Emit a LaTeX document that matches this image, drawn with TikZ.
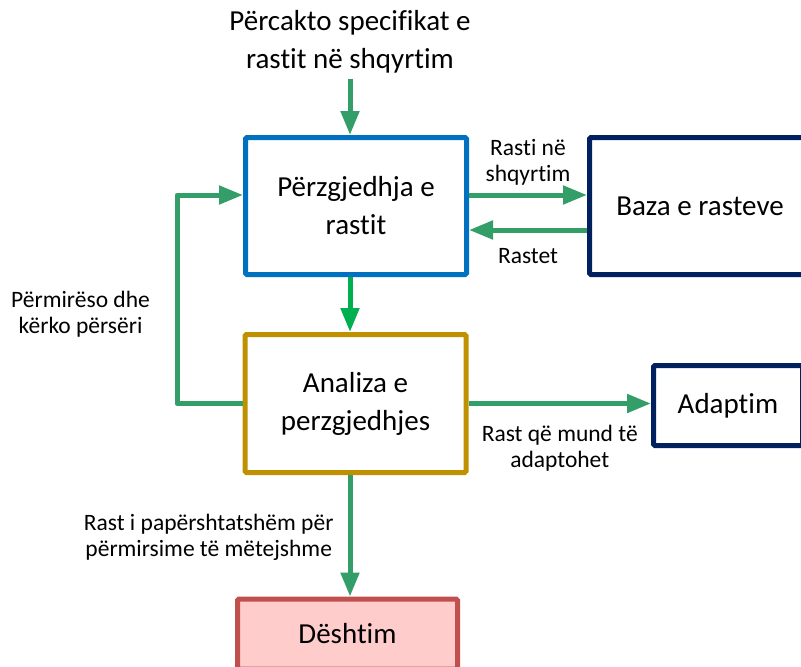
\documentclass[tikz,border=0pt]{standalone}
\usepackage{fontspec}
\setmainfont{Carlito}[Ligatures=NoCommon]
\usetikzlibrary{arrows.meta}
\definecolor{boxblue}{RGB}{0,112,192}
\definecolor{boxnavy}{RGB}{0,32,96}
\definecolor{boxgold}{RGB}{191,144,0}
\definecolor{failred}{RGB}{192,80,77}
\definecolor{failfill}{RGB}{255,204,204}
\definecolor{flowgreen}{RGB}{52,158,104}
\definecolor{brightgreen}{RGB}{0,176,80}
\begin{document}
\begin{tikzpicture}[x=1pt,y=-1pt,
    box/.style={draw,line width=5pt,rounded corners=1.5pt,fill=white,minimum width=221pt,minimum height=137pt,
      inner sep=0pt,align=center,font=\fontsize{29}{38}\selectfont},
    flow/.style={draw=flowgreen,line width=5pt,line join=round,-{Triangle[length=24pt,width=18pt]}},
    lbl/.style={align=center,inner sep=2pt,font=\fontsize{23.5}{26}\selectfont}]
        \useasboundingbox (0,0) rectangle (801,667);
        \clip (0,0) rectangle (801,667);
        % title
        \node[align=center,inner sep=5pt,font=\fontsize{29}{38}\selectfont] (title) at (350,42) {Përcakto specifikat e\\rastit në shqyrtim};
        % boxes
        \node[box,draw=boxblue] (select) at (356,206) {Përzgjedhja e\\rastit};
        \node[box,draw=boxnavy] (base) at (700,206) {Baza e rasteve};
        \node[box,draw=boxgold,minimum height=138pt] (analysis) at (355.5,403.5) {Analiza e\\perzgjedhjes};
        \node[box,draw=boxnavy,minimum width=149pt,minimum height=80pt] (adapt) at (728,405.5) {Adaptim};
        \node[box,draw=failred,fill=failfill,minimum width=220pt,minimum height=70pt] (fail) at (347.5,634) {Dështim};
        % arrows
        \draw[flow] (title.south) -- (title.south |- select.north);
        \draw[flow] ([yshift=11pt]select.east) -- ([yshift=11pt]base.west)
            node[lbl,midway,above=5pt] (query) {Rasti në\\shqyrtim};
        \draw[flow] ([yshift=-24pt]base.west) -- ([yshift=-24pt]select.east)
            node[lbl,midway,below=14pt] (cases) {Rastet};
        \draw[flow,draw=brightgreen] (select.south -| title.south) -- (analysis.north -| title.south);
        \coordinate (loop) at (177,300);
        \draw[flow] (analysis.west) -| (loop) |- ([yshift=11pt]select.west);
        \node[lbl,anchor=east] (retry) at (152,314) {Përmirëso dhe\\kërko përsëri};
        \draw[flow] (analysis.east) -- (analysis.east -| adapt.west)
            node[lbl,midway,below=17pt] (fits) {Rast që mund të\\adaptohet};
        \draw[flow] (analysis.south -| title.south) -- (fail.north -| title.south)
            node[lbl,midway,left=12pt,yshift=-2pt] (unfit) {Rast i papërshtatshëm për\\përmirsime të mëtejshme};
    \end{tikzpicture}
\end{document}
